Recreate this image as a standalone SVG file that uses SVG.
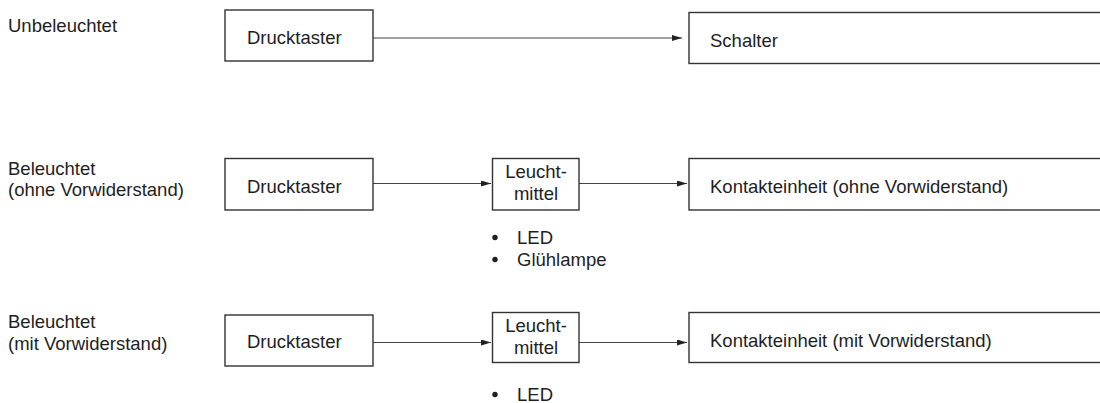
<svg xmlns="http://www.w3.org/2000/svg" width="1100" height="403" viewBox="0 0 1100 403">
<style>
text{font-family:"Liberation Sans",Arial,sans-serif;font-size:18.5px;fill:#1e1e1e}
.box{fill:#fff;stroke:#333;stroke-width:1.4}
.c{text-anchor:middle}
.ln{stroke:#444;stroke-width:1.2;fill:none}
.dot{fill:#1e1e1e}
</style>
<defs>
<marker id="ah" viewBox="0 0 10 6" refX="10" refY="3" markerWidth="10" markerHeight="6" markerUnits="userSpaceOnUse" orient="auto">
<path d="M0,0 L10,3 L0,6 Z" fill="#222"/>
</marker>
</defs>
<g id="labels">
<text x="8" y="32">Unbeleuchtet</text>
<text x="8" y="175">Beleuchtet</text>
<text x="8" y="196">(ohne Vorwiderstand)</text>
<text x="8" y="328">Beleuchtet</text>
<text x="8" y="350">(mit Vorwiderstand)</text>
</g>
<g id="connectors">
<line class="ln" x1="373" y1="38" x2="682" y2="38" marker-end="url(#ah)"/>
<line class="ln" x1="373" y1="183.5" x2="491" y2="183.5" marker-end="url(#ah)"/>
<line class="ln" x1="579" y1="183.5" x2="687" y2="183.5" marker-end="url(#ah)"/>
<line class="ln" x1="373" y1="342.5" x2="491" y2="342.5" marker-end="url(#ah)"/>
<line class="ln" x1="579" y1="342.5" x2="687" y2="342.5" marker-end="url(#ah)"/>
</g>
<g id="n1-drucktaster">
<rect class="box" x="225" y="10" width="148" height="51"/>
<text x="247" y="44">Drucktaster</text>
</g>
<g id="n1-schalter">
<rect class="box" x="689" y="12.5" width="420" height="51"/>
<text x="710" y="47">Schalter</text>
</g>
<g id="n2-drucktaster">
<rect class="box" x="225" y="158.5" width="148" height="51.5"/>
<text x="247" y="193">Drucktaster</text>
</g>
<g id="n2-leuchtmittel">
<rect class="box" x="492.5" y="158.5" width="86.5" height="51.5"/>
<text class="c" x="536" y="178">Leucht-</text>
<text class="c" x="536" y="200">mittel</text>
</g>
<g id="n2-kontakt">
<rect class="box" x="689" y="158.5" width="420" height="51.5"/>
<text x="710" y="193">Kontakteinheit (ohne Vorwiderstand)</text>
</g>
<g id="n2-list">
<circle class="dot" cx="495" cy="237.5" r="2.7"/>
<text x="517" y="244">LED</text>
<circle class="dot" cx="495" cy="259.5" r="2.7"/>
<text x="517" y="266">Glühlampe</text>
</g>
<g id="n3-drucktaster">
<rect class="box" x="225" y="315" width="148" height="51"/>
<text x="247" y="348">Drucktaster</text>
</g>
<g id="n3-leuchtmittel">
<rect class="box" x="492.5" y="312.5" width="86.5" height="50"/>
<text class="c" x="536" y="332">Leucht-</text>
<text class="c" x="536" y="354">mittel</text>
</g>
<g id="n3-kontakt">
<rect class="box" x="689" y="312.5" width="420" height="50"/>
<text x="710" y="347">Kontakteinheit (mit Vorwiderstand)</text>
</g>
<g id="n3-list">
<circle class="dot" cx="495" cy="394.5" r="2.7"/>
<text x="517" y="401">LED</text>
</g>
</svg>
